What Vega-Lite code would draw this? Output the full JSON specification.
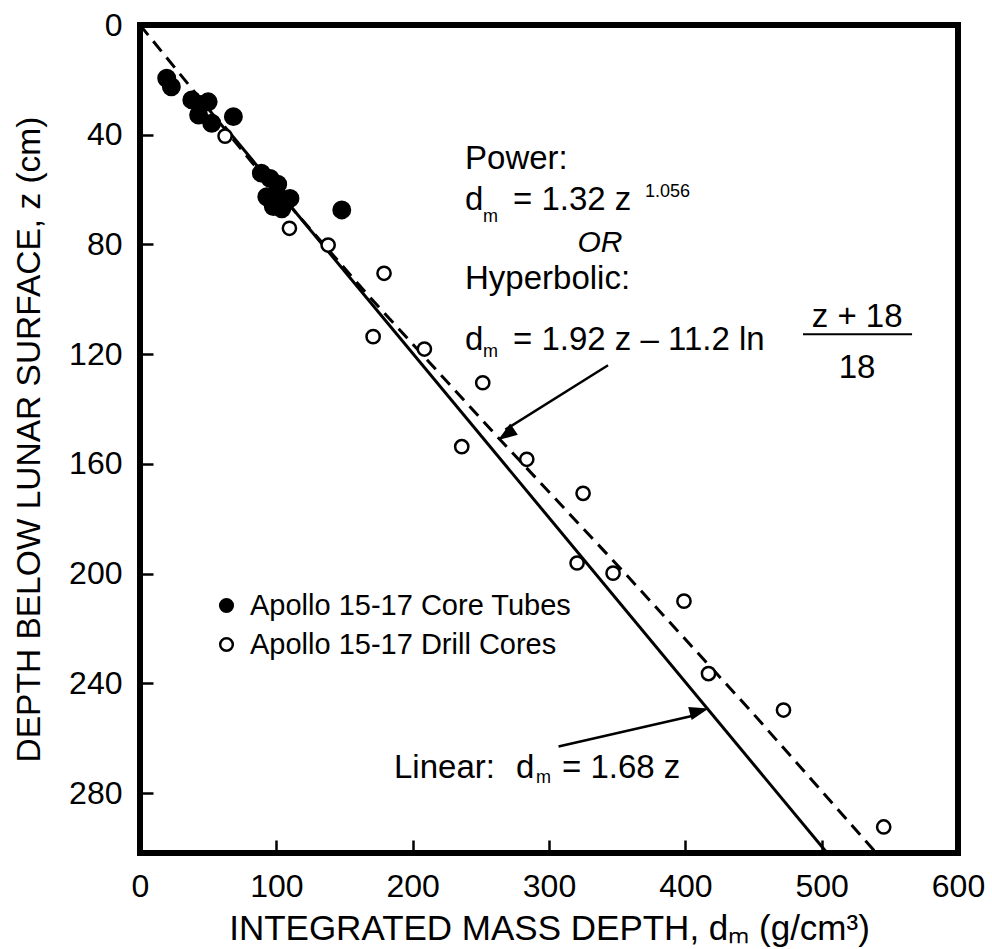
{
  "$schema": "https://vega.github.io/schema/vega-lite/v6.json",
  "width": 818,
  "height": 828,
  "autosize": {"type": "none"},
  "padding": {"left": 140, "top": 25, "right": 34, "bottom": 96},
  "background": "white",
  "config": {
    "font": "Liberation Sans",
    "view": {"stroke": "black", "strokeWidth": 6},
    "axis": {
      "grid": false, "domain": false,
      "tickColor": "black", "tickWidth": 2.5, "tickSize": -13,
      "labelPadding": 31, "labelFontSize": 32, "labelColor": "black", "labelFont": "Liberation Sans",
      "labelFlush": false, "labelOverlap": false,
      "titleFontWeight": "normal", "titleColor": "black", "titleFont": "Liberation Sans"
    }
  },
  "datasets": {
    "linear": [{"d": 62, "z": 37}, {"d": 504, "z": 301.8}],
    "power": [
      {"d": 0, "z": 0}, {"d": 82, "z": 50}, {"d": 170, "z": 100}, {"d": 262, "z": 150},
      {"d": 356, "z": 200}, {"d": 448, "z": 250}, {"d": 540, "z": 301.8}
    ],
    "points": [
      {"d": 19.6, "z": 19.4, "series": "Apollo 15-17 Core Tubes"},
      {"d": 23, "z": 22.5, "series": "Apollo 15-17 Core Tubes"},
      {"d": 38, "z": 27.3, "series": "Apollo 15-17 Core Tubes"},
      {"d": 44, "z": 29, "series": "Apollo 15-17 Core Tubes"},
      {"d": 50, "z": 28, "series": "Apollo 15-17 Core Tubes"},
      {"d": 43, "z": 32.8, "series": "Apollo 15-17 Core Tubes"},
      {"d": 52.6, "z": 35.8, "series": "Apollo 15-17 Core Tubes"},
      {"d": 68.5, "z": 33.4, "series": "Apollo 15-17 Core Tubes"},
      {"d": 89, "z": 54, "series": "Apollo 15-17 Core Tubes"},
      {"d": 95.4, "z": 55.9, "series": "Apollo 15-17 Core Tubes"},
      {"d": 93, "z": 62.6, "series": "Apollo 15-17 Core Tubes"},
      {"d": 100, "z": 61.4, "series": "Apollo 15-17 Core Tubes"},
      {"d": 101, "z": 58, "series": "Apollo 15-17 Core Tubes"},
      {"d": 105, "z": 64, "series": "Apollo 15-17 Core Tubes"},
      {"d": 110, "z": 63.2, "series": "Apollo 15-17 Core Tubes"},
      {"d": 97.8, "z": 66.2, "series": "Apollo 15-17 Core Tubes"},
      {"d": 104, "z": 67, "series": "Apollo 15-17 Core Tubes"},
      {"d": 148, "z": 67.4, "series": "Apollo 15-17 Core Tubes"},
      {"d": 62.4, "z": 40.5, "series": "Apollo 15-17 Drill Cores"},
      {"d": 109.6, "z": 74.1, "series": "Apollo 15-17 Drill Cores"},
      {"d": 138, "z": 80.2, "series": "Apollo 15-17 Drill Cores"},
      {"d": 179, "z": 90.5, "series": "Apollo 15-17 Drill Cores"},
      {"d": 171, "z": 113.6, "series": "Apollo 15-17 Drill Cores"},
      {"d": 208.6, "z": 118.1, "series": "Apollo 15-17 Drill Cores"},
      {"d": 251.4, "z": 130.4, "series": "Apollo 15-17 Drill Cores"},
      {"d": 236, "z": 153.7, "series": "Apollo 15-17 Drill Cores"},
      {"d": 283.7, "z": 158.3, "series": "Apollo 15-17 Drill Cores"},
      {"d": 325, "z": 170.7, "series": "Apollo 15-17 Drill Cores"},
      {"d": 320.6, "z": 196.1, "series": "Apollo 15-17 Drill Cores"},
      {"d": 347, "z": 199.8, "series": "Apollo 15-17 Drill Cores"},
      {"d": 399, "z": 210, "series": "Apollo 15-17 Drill Cores"},
      {"d": 417, "z": 236.4, "series": "Apollo 15-17 Drill Cores"},
      {"d": 472, "z": 249.7, "series": "Apollo 15-17 Drill Cores"},
      {"d": 545.5, "z": 292.3, "series": "Apollo 15-17 Drill Cores"}
    ],
    "arrows": [
      {"arrow": "hyp", "d": 343.3, "z": 124},
      {"arrow": "hyp", "d": 268, "z": 147.5},
      {"arrow": "lin", "d": 307, "z": 263},
      {"arrow": "lin", "d": 408, "z": 251.5}
    ],
    "heads": [
      {"arrow": "hyp", "d": 262.6, "z": 151.3},
      {"arrow": "lin", "d": 417.1, "z": 249.1}
    ],
    "textLeft": [
      {"d": 238.4, "z": 52.6, "label": "Power:"},
      {"d": 238.4, "z": 67.4, "label": "d"},
      {"d": 273.6, "z": 67.4, "label": "= 1.32 z"},
      {"d": 238.4, "z": 96.3, "label": "Hyperbolic:"},
      {"d": 238.4, "z": 118.5, "label": "d"},
      {"d": 273.6, "z": 118.5, "label": "= 1.92 z – 11.2 ln"},
      {"d": 186.3, "z": 274.5, "label": "Linear:"},
      {"d": 275.8, "z": 274.5, "label": "d"},
      {"d": 309.5, "z": 274.5, "label": "= 1.68 z"}
    ],
    "textCenter": [
      {"d": 526, "z": 110.1, "label": "z + 18"},
      {"d": 526, "z": 128.7, "label": "18"}
    ],
    "textItalic": [
      {"d": 337.4, "z": 82.8, "label": "OR"}
    ],
    "textSmall": [
      {"d": 251.6, "z": 71.8, "label": "m"},
      {"d": 370.4, "z": 62.7, "label": "1.056"},
      {"d": 251.6, "z": 121, "label": "m"},
      {"d": 290.5, "z": 276.3, "label": "m"}
    ],
    "bar": [{"d": 486.3, "d2": 566.3, "z": 112.7}]
  },
  "encoding": {
    "x": {
      "field": "d", "type": "quantitative",
      "scale": {"domain": [0, 600], "nice": false, "zero": false},
      "axis": {"values": [0, 100, 200, 300, 400, 500, 600], "format": "d", "title": "INTEGRATED MASS DEPTH, dₘ (g/cm³)", "titlePadding": 9, "titleFontSize": 35}
    },
    "y": {
      "field": "z", "type": "quantitative",
      "scale": {"domain": [0, 301.8], "nice": false, "zero": false, "reverse": true},
      "axis": {"values": [0, 40, 80, 120, 160, 200, 240, 280], "format": "d", "title": "DEPTH BELOW LUNAR SURFACE, z (cm)", "titlePadding": 22, "titleFontSize": 33.5}
    }
  },
  "layer": [
    {
      "data": {"name": "linear"},
      "mark": {"type": "line", "color": "black", "strokeWidth": 3, "clip": true},
      "encoding": {}
    },
    {
      "data": {"name": "power"},
      "mark": {"type": "line", "color": "black", "strokeWidth": 3, "strokeDash": [13, 8], "clip": true},
      "encoding": {}
    },
    {
      "data": {"name": "arrows"},
      "mark": {"type": "line", "color": "black", "strokeWidth": 2.5},
      "encoding": {"detail": {"field": "arrow", "type": "nominal"}, "order": {"field": "z"}}
    },
    {
      "data": {"name": "heads"},
      "transform": [{"filter": "datum.arrow === 'hyp'"}],
      "mark": {"type": "point", "shape": "M0,0L-0.35,1L0.35,1Z", "filled": true, "color": "black", "size": 1500, "angle": 235.7, "opacity": 1},
      "encoding": {}
    },
    {
      "data": {"name": "heads"},
      "transform": [{"filter": "datum.arrow === 'lin'"}],
      "mark": {"type": "point", "shape": "M0,0L-0.35,1L0.35,1Z", "filled": true, "color": "black", "size": 1500, "angle": 75, "opacity": 1},
      "encoding": {}
    },
    {
      "data": {"name": "points"},
      "transform": [{"filter": "datum.series === 'Apollo 15-17 Core Tubes'"}],
      "mark": {"type": "circle", "stroke": "black", "strokeWidth": 2.5, "opacity": 1, "size": 270},
      "encoding": {
        "fill": {
          "field": "series", "type": "nominal",
          "scale": {"domain": ["Apollo 15-17 Core Tubes", "Apollo 15-17 Drill Cores"], "range": ["black", "white"]},
          "legend": {
            "orient": "none", "legendX": 72, "legendY": 566, "title": null,
            "labelFontSize": 29, "labelColor": "black", "labelFont": "Liberation Sans", "labelLimit": 500,
            "symbolSize": 160, "symbolStrokeColor": "black", "symbolStrokeWidth": 2.5, "symbolType": "circle",
            "rowPadding": 9, "labelOffset": 9, "padding": 0, "symbolOpacity": 1
          }
        }
      }
    },
    {
      "data": {"name": "points"},
      "transform": [{"filter": "datum.series === 'Apollo 15-17 Drill Cores'"}],
      "mark": {"type": "circle", "stroke": "black", "strokeWidth": 2.5, "opacity": 1, "size": 175},
      "encoding": {
        "fill": {"field": "series", "type": "nominal"}
      }
    },
    {
      "data": {"name": "bar"},
      "mark": {"type": "rule", "color": "black", "strokeWidth": 2},
      "encoding": {"x2": {"field": "d2"}}
    },
    {
      "data": {"name": "textLeft"},
      "mark": {"type": "text", "align": "left", "baseline": "alphabetic", "fontSize": 33, "color": "black", "font": "Liberation Sans"},
      "encoding": {"text": {"field": "label"}}
    },
    {
      "data": {"name": "textCenter"},
      "mark": {"type": "text", "align": "center", "baseline": "alphabetic", "fontSize": 33, "color": "black", "font": "Liberation Sans"},
      "encoding": {"text": {"field": "label"}}
    },
    {
      "data": {"name": "textItalic"},
      "mark": {"type": "text", "align": "center", "baseline": "alphabetic", "fontSize": 30, "fontStyle": "italic", "color": "black", "font": "Liberation Sans"},
      "encoding": {"text": {"field": "label"}}
    },
    {
      "data": {"name": "textSmall"},
      "mark": {"type": "text", "align": "left", "baseline": "alphabetic", "fontSize": 18, "color": "black", "font": "Liberation Sans"},
      "encoding": {"text": {"field": "label"}}
    }
  ]
}
